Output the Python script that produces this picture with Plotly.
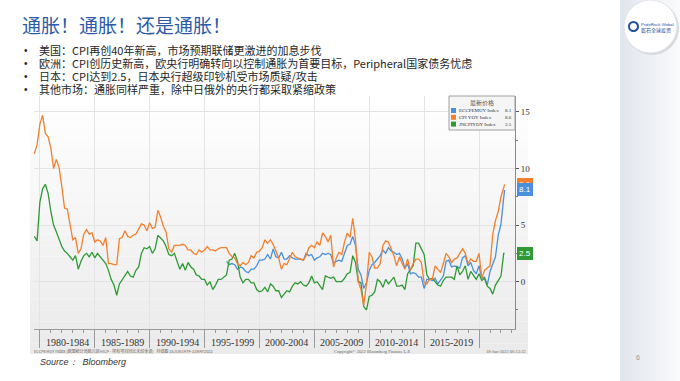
import pandas as pd
import plotly.graph_objects as go

W, H = 680, 381

# ---------------- data (quarterly readings, %, YoY) ----------------
us_dates = list(pd.date_range("1979-07-01", "2022-04-01", freq="QS").strftime("%Y-%m-%d")) + ["2022-05-01"]
us_cpi = [
    11.3, 12.1,
    13.9, 14.7, 13.1, 12.8,
    11.8, 10.0, 10.8, 10.1,
    8.4, 6.5, 6.4, 5.0,
    3.7, 3.9, 2.5, 2.9,
    4.2, 4.6, 4.2, 4.3,
    3.5, 3.7, 3.6, 3.2,
    3.9, 1.6, 1.6, 1.5,
    1.5, 3.8, 3.9, 4.5,
    4.0, 3.9, 4.1, 4.2,
    4.7, 5.1, 5.0, 4.5,
    5.2, 4.7, 4.8, 6.3,
    5.7, 4.9, 4.4, 2.9,
    2.6, 3.2, 3.2, 3.2,
    3.3, 3.2, 2.8, 2.8,
    2.5, 2.4, 2.8, 2.6,
    2.8, 3.1, 2.8, 2.8,
    2.7, 2.9, 3.0, 3.0,
    3.0, 2.5, 2.2, 2.1,
    1.6, 1.4, 1.7, 1.5,
    1.7, 2.3, 2.1, 2.6,
    2.7, 3.0, 3.7, 3.4,
    3.7, 3.3, 2.7, 2.1,
    1.1, 1.6, 1.5, 2.0,
    2.6, 2.2, 2.1, 2.0,
    1.9, 2.3, 3.0, 3.2,
    3.0, 3.5, 3.2, 4.3,
    4.0, 3.5, 4.1, 1.3,
    2.1, 2.6, 2.4, 3.5,
    4.3, 3.9, 5.6, 3.7,
    0.0, -0.7, -2.1, -0.2,
    2.6, 2.2, 1.2, 1.2,
    1.6, 3.2, 3.6, 3.5,
    2.9, 2.3, 1.4, 2.2,
    1.6, 1.1, 2.0, 1.0,
    1.6, 2.0, 2.0, 1.7,
    -0.1, -0.2, 0.2, 0.2,
    1.4, 1.1, 0.8, 1.6,
    2.5, 2.2, 1.7, 2.0,
    2.1, 2.5, 2.9, 2.5,
    1.6, 2.0, 1.8, 1.8,
    2.5, 0.3, 1.0, 1.2,
    1.4, 4.2, 5.4, 6.2,
    7.5, 8.3, 8.6,
]

jp_dates = us_dates
jp_cpi = [
    4.0, 3.6,
    7.0, 8.2, 8.6, 7.8,
    6.2, 5.0, 4.4, 3.8,
    3.1, 2.7, 2.5, 2.2,
    1.9, 2.3, 1.1, 1.8,
    2.3, 2.5, 2.2, 2.6,
    2.1, 2.5, 2.2, 1.8,
    1.6, 1.0, 0.2, -0.3,
    -1.2, -0.2, 0.2, 0.6,
    0.9, 0.5, 0.4, 1.0,
    1.3, 2.5, 3.0, 2.9,
    3.1, 2.5, 2.9, 4.1,
    3.8, 3.6, 3.1, 2.4,
    2.3, 2.5, 1.8, 1.1,
    1.6, 1.0, 1.7, 1.3,
    1.1, 0.6, 0.5, 0.2,
    0.2, -0.3, 0.0, -0.7,
    -0.3, 0.2, 0.2, 0.4,
    0.6, 1.9, 2.0, 2.5,
    1.8, 0.4, -0.1, 0.2,
    0.2, -0.1, -0.1, -0.7,
    -0.9, -0.8, -0.5, -0.9,
    -0.2, -0.4, -0.8, -0.8,
    -1.4, -1.1, -0.8, -0.9,
    -0.4, -0.1, -0.2, 0.0,
    -0.3, -0.4, -0.1, 0.5,
    -0.1, 0.0, -0.3, -0.7,
    0.5, 0.4, 0.3, 0.4,
    0.0, 0.0, 0.0, 0.3,
    0.7, 0.8, 2.3, 1.7,
    0.0, -0.1, -2.2, -2.5,
    -1.3, -1.2, -0.9, 0.2,
    0.0, -0.5, 0.2, -0.2,
    0.1, 0.4, -0.4, -0.4,
    -0.3, -0.7, 0.7, 1.1,
    1.4, 3.4, 3.4, 2.9,
    2.4, 0.6, 0.2, 0.3,
    0.0, -0.3, -0.4, 0.1,
    0.4, 0.4, 0.4, 0.2,
    1.4, 0.6, 0.9, 1.4,
    0.2, 0.9, 0.5, 0.2,
    0.7, 0.1, 0.3, -0.4,
    -0.6, -1.1, -0.3, 0.1,
    0.5, 2.5, 2.5,
]

eu_dates = list(pd.date_range("1997-01-01", "2022-04-01", freq="QS").strftime("%Y-%m-%d")) + ["2022-05-01"]
eu_hicp = [
    1.8, 1.5, 1.6, 1.5,
    1.1, 1.3, 1.2, 0.9,
    0.8, 1.1, 1.1, 1.4,
    1.9, 1.9, 2.0, 2.4,
    2.0, 2.9, 2.2, 2.1,
    2.6, 2.0, 2.0, 2.3,
    2.1, 2.0, 2.0, 2.0,
    1.9, 2.5, 2.3, 2.4,
    1.9, 2.1, 2.2, 2.5,
    2.4, 2.5, 2.4, 1.6,
    1.8, 1.9, 1.8, 2.6,
    3.2, 3.3, 4.0, 3.2,
    1.1, 0.6, -0.6, -0.1,
    1.0, 1.5, 1.7, 2.0,
    2.3, 2.8, 2.5, 3.0,
    2.7, 2.6, 2.4, 2.5,
    2.0, 1.2, 1.6, 0.7,
    0.8, 0.7, 0.4, 0.4,
    -0.6, 0.2, 0.2, 0.1,
    0.3, -0.2, 0.2, 0.5,
    1.8, 1.9, 1.3, 1.4,
    1.3, 1.2, 2.1, 2.3,
    1.4, 1.7, 1.0, 0.7,
    1.4, 0.3, 0.4, -0.3,
    0.9, 1.6, 2.2, 4.1,
    5.1, 7.4, 8.1,
]

series_names = ["ECCPEMUY Index", "CPI YOY Index", "JNCPIYOY Index"]
last_values = ["8.1", "8.6", "2.5"]
period_labels = ["1980-1984", "1985-1989", "1990-1994", "1995-1999", "2000-2004",
                 "2005-2009", "2010-2014", "2015-2019"]
period_starts = ["1980-01-01", "1985-01-01", "1990-01-01", "1995-01-01", "2000-01-01",
                 "2005-01-01", "2010-01-01", "2015-01-01", "2020-01-01"]
period_mids = ["1982-07-02", "1987-07-02", "1992-07-02", "1997-07-02", "2002-07-02",
               "2007-07-02", "2012-07-02", "2017-07-02"]
y_ticks = [0, 5, 10, 15]

title_text = "通胀！通胀！还是通胀！"
bullets = [
    "美国：CPI再创40年新高，市场预期联储更激进的加息步伐",
    "欧洲：CPI创历史新高，欧央行明确转向以控制通胀为首要目标，Peripheral国家债务忧虑",
    "日本：CPI达到2.5，日本央行超级印钞机受市场质疑/攻击",
    "其他市场：通胀同样严重，除中日俄外的央行都采取紧缩政策",
]

BLUE = "#4a90dc"
ORANGE = "#f47f2e"
GREEN = "#2f9a35"
CJK = "Noto Sans CJK SC"
SERIF = "Liberation Serif"


def px(x):
    return x / W


def py(y):
    return 1 - y / H


fig = go.Figure()
fig.add_trace(go.Scatter(x=eu_dates, y=eu_hicp, mode="lines", line=dict(color=BLUE, width=1.3), name=series_names[0]))
fig.add_trace(go.Scatter(x=jp_dates, y=jp_cpi, mode="lines", line=dict(color=GREEN, width=1.3), name=series_names[2]))
fig.add_trace(go.Scatter(x=us_dates, y=us_cpi, mode="lines", line=dict(color=ORANGE, width=1.3), name=series_names[1]))

shapes = []
annotations = []

# panel gradient background
top, bot = 94, 354
n = 24
for i in range(n):
    y0 = top + (bot - top) * i / n
    y1 = top + (bot - top) * (i + 1) / n
    g = int(255 - 20 * (i / (n - 1)))
    shapes.append(dict(type="rect", xref="paper", yref="paper", x0=px(30), x1=px(528),
                       y0=py(y1), y1=py(y0), fillcolor=f"rgb({g},{g},{g})", line=dict(width=0), layer="below"))

# right decorative band
m = 20
for i in range(m):
    x0 = 620 + 60 * i / m
    x1 = 620 + 60 * (i + 1) / m
    t = i / (m - 1)
    r = int(226 + (250 - 226) * t)
    gg = int(230 + (251 - 230) * t)
    b = int(237 + (252 - 237) * t)
    shapes.append(dict(type="rect", xref="paper", yref="paper", x0=px(x0), x1=px(x1) + 0.001,
                       y0=0, y1=1, fillcolor=f"rgb({r},{gg},{b})", line=dict(width=0), layer="below"))

# logo circle
shapes.append(dict(type="circle", xref="paper", yref="paper", x0=px(625), x1=px(679), y0=py(55), y1=py(1),
                   fillcolor="#d6d9de", line=dict(width=0), layer="below"))
shapes.append(dict(type="circle", xref="paper", yref="paper", x0=px(624), x1=px(677), y0=py(53), y1=py(0),
                   fillcolor="white", line=dict(color="#e0e3e8", width=1), layer="below"))
shapes.append(dict(type="circle", xref="paper", yref="paper", x0=px(629), x1=px(638), y0=py(31), y1=py(22),
                   fillcolor="white", line=dict(color="#1f4fa0", width=2), layer="above"))
annotations.append(dict(x=px(640), y=py(24), xref="paper", yref="paper", text="PrideRock Global", showarrow=False,
                        xanchor="left", yanchor="middle", borderpad=0,
                        font=dict(family="Liberation Sans", size=4.2, color="#1f4fa0")))
annotations.append(dict(x=px(640), y=py(30), xref="paper", yref="paper", text="磐石全球投资", showarrow=False,
                        xanchor="left", yanchor="middle", borderpad=0,
                        font=dict(family=CJK, size=5, color="#1f4fa0")))

# legend box
shapes.append(dict(type="rect", xref="paper", yref="paper", x0=px(449), x1=px(515), y0=py(130), y1=py(96),
                   fillcolor="#f5f5f5", line=dict(color="#a0a0a0", width=1), layer="above"))
annotations.append(dict(x=px(482), y=py(102.5), xref="paper", yref="paper", text="最新价格", showarrow=False,
                        xanchor="center", yanchor="middle", borderpad=0,
                        font=dict(family=CJK, size=6, color="#555")))
for i, (nm, val, col) in enumerate(zip(series_names, last_values, [BLUE, ORANGE, GREEN])):
    yy = 110.5 + 6.8 * i
    shapes.append(dict(type="rect", xref="paper", yref="paper", x0=px(451), x1=px(456), y0=py(yy + 2.5),
                       y1=py(yy - 2.5), fillcolor=col, line=dict(width=0), layer="above"))
    annotations.append(dict(x=px(458), y=py(yy), xref="paper", yref="paper", text=nm, showarrow=False,
                            xanchor="left", yanchor="middle", borderpad=0,
                            font=dict(family=SERIF, size=5, color="#333")))
    annotations.append(dict(x=px(513), y=py(yy), xref="paper", yref="paper", text=val, showarrow=False,
                            xanchor="right", yanchor="middle", borderpad=0,
                            font=dict(family=SERIF, size=5, color="#333")))

# price tags at right axis
for val, col in [(8.6, ORANGE), (8.1, BLUE), (2.5, GREEN)]:
    annotations.append(dict(x=1.0, xref="x domain", y=val, yref="y", text=f"{val}", showarrow=False,
                            xanchor="left", yanchor="middle", xshift=2, bgcolor=col, bordercolor=col,
                            borderpad=1, font=dict(family="Liberation Sans", size=8, color="white")))

# x-axis period labels
for lab, mid in zip(period_labels, period_mids):
    annotations.append(dict(x=mid, xref="x", y=py(342), yref="paper", text=lab, showarrow=False,
                            xanchor="center", yanchor="middle", borderpad=0,
                            font=dict(family=SERIF, size=10, color="#333")))

# footer
annotations.append(dict(x=px(33), y=py(351), xref="paper", yref="paper",
                        text="ECCPEMUY Index (欧盟统计局欧元区HICP - 所有项目同比未经季调)   月线图 18JUN1979-31MAY2022",
                        showarrow=False, xanchor="left", yanchor="middle", borderpad=0,
                        font=dict(family=CJK, size=4, color="#666")))
annotations.append(dict(x=px(372), y=py(351), xref="paper", yref="paper",
                        text="Copyright© 2022 Bloomberg Finance L.P.", showarrow=False, xanchor="center",
                        yanchor="middle", borderpad=0, font=dict(family=SERIF, size=4.5, color="#666")))
annotations.append(dict(x=px(527), y=py(351), xref="paper", yref="paper", text="18-Jun-2022 06:13:32",
                        showarrow=False, xanchor="right", yanchor="middle", borderpad=0,
                        font=dict(family=SERIF, size=4.5, color="#666")))

# slide texts
annotations.append(dict(x=px(21), y=py(24), xref="paper", yref="paper", text=title_text, showarrow=False,
                        xanchor="left", yanchor="middle", borderpad=0,
                        font=dict(family=CJK, size=19, color="#2c5aa8")))
for i, b in enumerate(bullets):
    yy = 50 + 13.1 * i
    annotations.append(dict(x=px(23), y=py(yy), xref="paper", yref="paper", text="•", showarrow=False,
                            xanchor="left", yanchor="middle", borderpad=0,
                            font=dict(family="Liberation Sans", size=10, color="#222")))
    annotations.append(dict(x=px(38), y=py(yy), xref="paper", yref="paper", text=b, showarrow=False,
                            xanchor="left", yanchor="middle", borderpad=0,
                            font=dict(family=CJK, size=11, color="#262626")))
annotations.append(dict(x=px(39), y=py(362), xref="paper", yref="paper", text="<i>Source：  Bloomberg</i>",
                        showarrow=False, xanchor="left", yanchor="middle", borderpad=0,
                        font=dict(family="Liberation Sans", size=9, color="#333")))
annotations.append(dict(x=px(638), y=py(357), xref="paper", yref="paper", text="6", showarrow=False,
                        xanchor="center", yanchor="middle", borderpad=0,
                        font=dict(family="Liberation Sans", size=7, color="#999")))

fig.update_layout(
    width=W, height=H,
    margin=dict(l=0, r=0, t=0, b=0),
    paper_bgcolor="white",
    plot_bgcolor="rgba(0,0,0,0)",
    showlegend=False,
    shapes=shapes,
    annotations=annotations,
    xaxis=dict(
        type="date",
        domain=[px(34), px(515)],
        range=["1979-06-20", "2023-04-12"],
        tickmode="array", tickvals=period_starts, showticklabels=False,
        ticks="outside", ticklen=18, tickcolor="#9a9a9a", tickwidth=1,
        showgrid=True, gridcolor="#e4e4e4", gridwidth=1,
        showline=True, linecolor="#9a9a9a", linewidth=1,
        zeroline=False,
        minor=dict(tickmode="linear", tick0="1980-01-01", dtick="M12", ticks="outside", ticklen=3,
                   tickcolor="#9a9a9a", showgrid=False),
    ),
    yaxis=dict(
        domain=[py(329), py(96)],
        range=[-4.18, 16.4],
        side="right",
        tickmode="array", tickvals=y_ticks,
        ticks="outside", ticklen=3, tickcolor="#555",
        tickfont=dict(family=SERIF, size=9, color="#333"),
        showgrid=True, gridcolor="#e4e4e4", gridwidth=1,
        showline=True, linecolor="#8a8a8a", linewidth=1,
        zeroline=False,
        minor=dict(tickmode="linear", tick0=0, dtick=2.5, ticks="outside", ticklen=2, tickcolor="#777",
                   showgrid=False),
    ),
)

fig.write_html("out.html", config={"displayModeBar": False},
               post_script="document.body.style.margin='0';document.body.style.overflow='hidden';")
